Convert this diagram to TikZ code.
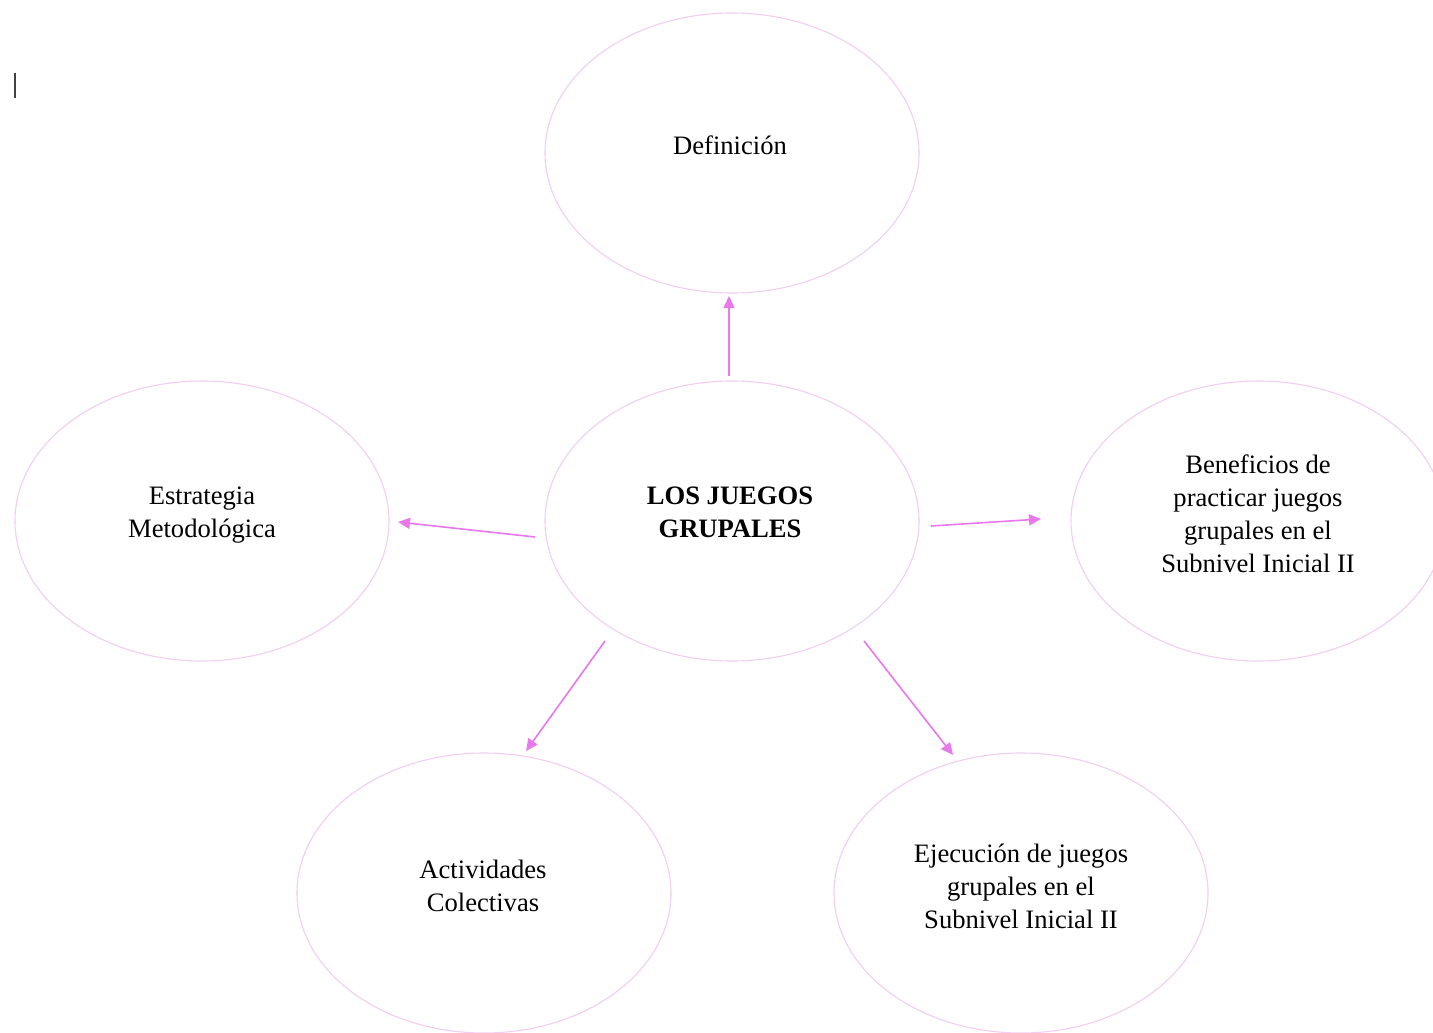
\documentclass[tikz,border=0pt]{standalone}
\usepackage{fontspec}
\setmainfont{Liberation Serif}
\usetikzlibrary{shapes.geometric,arrows.meta}
\definecolor{ellpink}{RGB}{242,206,242}
\definecolor{arrpink}{RGB}{232,120,236}
\tikzset{
  bubble/.style={ellipse, draw=ellpink, line width=0.55pt, minimum width=187pt, minimum height=140pt, inner sep=0pt},
  label/.style={align=center, font=\fontsize{13.3}{16.5}\selectfont, inner sep=0pt},
  link/.style={draw=arrpink, line width=0.8pt, -{Triangle[length=6pt,width=5.5pt]}}
}
\begin{document}
\begin{tikzpicture}[x=0.5pt,y=-0.5pt]
\useasboundingbox[fill=white] (0,0) rectangle (1433,1032);
\clip (0,0) rectangle (1433,1032);
% ellipses
\node[bubble] (defE) at (732,153) {};
\node[bubble] (cenE) at (732,521) {};
\node[bubble] (estE) at (202,521) {};
\node[bubble] (benE) at (1258,521) {};
\node[bubble] (actE) at (484,893) {};
\node[bubble] (ejeE) at (1021,893) {};
% texts
\node[label] (defT) at (730,145) {Definición};
\node[label,font=\fontsize{13.3}{16.5}\selectfont\bfseries] (cenT) at (730,512) {LOS JUEGOS\\GRUPALES};
\node[label] (estT) at (202,515) {Estrategia\\Metodológica};
\node[label] (benT) at (1258,514) {Beneficios de\\practicar juegos\\grupales en el\\Subnivel Inicial II};
\node[label] (actT) at (483,886) {Actividades\\Colectivas};
\node[label] (ejeT) at (1021,886) {Ejecución de juegos\\grupales en el\\Subnivel Inicial II};
% arrow ends
\coordinate (aUs) at (729,376);
\coordinate (aUe) at (729,296);
\coordinate (aLs) at (535,537);
\coordinate (aLe) at (398,522);
\coordinate (aRs) at (931,526);
\coordinate (aRe) at (1041,519);
\coordinate (aDLs) at (605,641);
\coordinate (aDLe) at (526,751);
\coordinate (aDRs) at (864,641);
\coordinate (aDRe) at (953,755);
\draw[link] (aUs) -- (aUe);
\draw[link] (aLs) -- (aLe);
\draw[link] (aRs) -- (aRe);
\draw[link] (aDLs) -- (aDLe);
\draw[link] (aDRs) -- (aDRe);
% text cursor
\coordinate (curA) at (15,73);
\coordinate (curB) at (15,98);
\draw[black!75, line width=0.6pt] (curA) -- (curB);
\end{tikzpicture}
\end{document}
